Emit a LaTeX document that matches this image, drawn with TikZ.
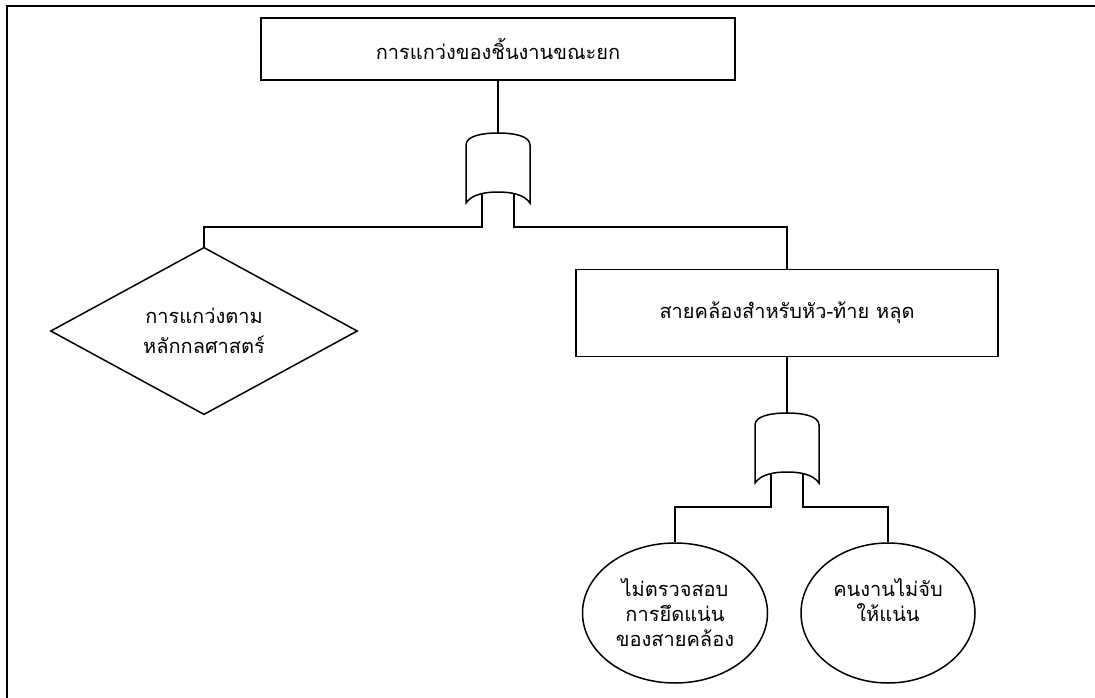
\documentclass[tikz,border=0pt]{standalone}
\usepackage{fontspec}
\newfontfamily\thaifont[Script=Thai]{Loma}
\usetikzlibrary{shapes.geometric}

\tikzset{
  line/.style={line width=1.5pt, black},
  frame/.style={line width=2.2pt, black},
  eventbox/.style={draw, line width=1.5pt, rectangle, inner sep=0pt, align=center, font=\thaifont\fontsize{20}{25}\selectfont},
  basicev/.style={draw, line width=1.5pt, ellipse, inner sep=0pt, align=center, font=\thaifont\fontsize{20}{25}\selectfont},
  undevel/.style={draw, line width=1.5pt, diamond, inner sep=0pt, align=center, font=\thaifont\fontsize{20}{25}\selectfont},
  % or-gate, apex at the pic origin, legs hang down to (-lf) and (-rf)
  orgate/.pic={
    \draw[line, fill=white] (-32,12) .. controls (-32,3) and (-16,0) .. (0,0)
      .. controls (16,0) and (32,3) .. (32,12) -- (32,70)
      .. controls (26,61) and (12,59) .. (0,59)
      .. controls (-12,59) and (-26,61) .. (-32,70) -- cycle;
    \coordinate (-top) at (0,0);
    \coordinate (-l) at (-16,61);
    \coordinate (-r) at (16,61);
    \coordinate (-lf) at (-16,94);
    \coordinate (-rf) at (16,94);
  }
}

\begin{document}
\begin{tikzpicture}[x=1pt, y=-1pt]
  %%%%% START %%%%%
  \useasboundingbox (0,0) rectangle (1095,698);

  \draw[frame] (7,698) -- (7,6) -- (1095,6);

  % top event
  \node[eventbox, minimum width=474pt, minimum height=62pt] (swing) at (498,49) {การแกว่งของชิ้นงานขณะยก};
  \pic (g1) at (498,133) {orgate};

  % second level
  \node[undevel, minimum width=307pt, minimum height=132pt] (mech) at (204,331) {การแกว่งตาม\\[5pt]หลักกลศาสตร์};
  \node[eventbox, minimum width=422pt, minimum height=87pt] (sling) at (787,313) {สายคล้องสำหรับหัว-ท้าย หลุด};
  \pic (g2) at (787,413) {orgate};

  % basic events
  \node[basicev, minimum width=185pt, minimum height=140pt] (check) at (675,613) {ไม่ตรวจสอบ\\การยึดแน่น\\ของสายคล้อง};
  \node[basicev, minimum width=174pt, minimum height=140pt] (grip) at (888,613) {คนงานไม่จับ\\ให้แน่น\\\mbox{}};

  % connectors
  \draw[line] (swing.south) -- (g1-top);
  \draw[line] (g1-l) -- (g1-lf) -| (mech.north);
  \draw[line] (g1-r) -- (g1-rf) -| (sling.north);
  \draw[line] (sling.south) -- (g2-top);
  \draw[line] (g2-l) -- (g2-lf) -| (check.north);
  \draw[line] (g2-r) -- (g2-rf) -| (grip.north);
  %%%%% END %%%%%
\end{tikzpicture}
\end{document}
